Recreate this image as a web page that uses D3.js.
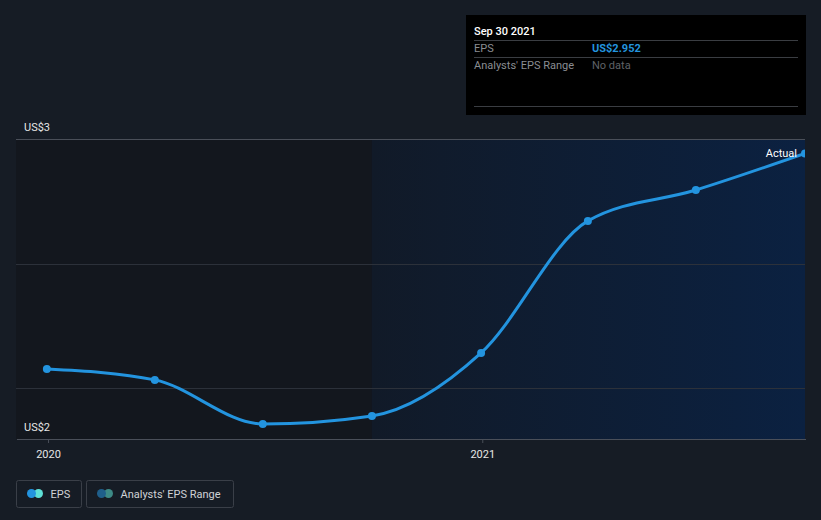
<!DOCTYPE html>
<html>
<head>
<meta charset="utf-8">
<script src="https://cdn.jsdelivr.net/npm/d3@7"></script>
<style>
  html, body { margin: 0; padding: 0; background: #161c25; }
  svg { display: block; font-family: Roboto, "Noto Sans", sans-serif; }
</style>
</head>
<body>
<svg id="chart" width="821" height="520"></svg>
<script>
// ---- data ----
const dates = ["2019-12-31", "2020-03-31", "2020-06-30", "2020-09-30", "2020-12-31", "2021-03-31", "2021-06-30", "2021-09-30"];
const eps = [2.233, 2.197, 2.05, 2.077, 2.287, 2.727, 2.83, 2.952];
const yLabelValues = [2, 3];
const yLabelTexts = ["US$2", "US$3"];
const gridValues = [2.1667, 2.5833, 3];
const xTickDates = ["2020-01-01", "2021-01-01"];
const xTickLabels = ["2020", "2021"];
const domainDates = ["2019-12-05", "2021-09-30"];
const forecastStart = "2020-09-30";
const tooltipTitle = "Sep 30 2021";
const tooltipRows = [["EPS", "US$2.952"], ["Analysts' EPS Range", "No data"]];
const legendItems = ["EPS", "Analysts' EPS Range"];

// ---- setup ----
const parse = d3.timeParse("%Y-%m-%d");
const svg = d3.select("#chart");
const L = 16, R = 805, T = 139, B = 439;

const x = d3.scaleTime().domain(domainDates.map(parse)).range([L, R]);
const y = d3.scaleLinear().domain([2, 3]).range([B, T]);

const defs = svg.append("defs");
const grad = defs.append("linearGradient").attr("id", "fgrad").attr("x1", "0").attr("x2", "1").attr("y1", "0").attr("y2", "0");
grad.append("stop").attr("offset", "0%").attr("stop-color", "#111a28");
grad.append("stop").attr("offset", "100%").attr("stop-color", "#0b2141");
defs.append("clipPath").attr("id", "clip").append("rect")
  .attr("x", L - 10).attr("y", 0).attr("width", R - L + 10).attr("height", 520);

// shaded regions
const xs = x(parse(forecastStart));
svg.append("rect").attr("x", L).attr("y", T).attr("width", xs - L).attr("height", B - T).attr("fill", "#13171e");
svg.append("rect").attr("x", xs).attr("y", T).attr("width", R - xs).attr("height", B - T).attr("fill", "url(#fgrad)");

// gridlines
svg.append("g").selectAll("line").data(gridValues).join("line")
  .attr("x1", L).attr("x2", R)
  .attr("y1", d => y(d)).attr("y2", d => y(d))
  .attr("stroke", d => d === 3 ? "#4a4f59" : "#2c313a")
  .attr("stroke-width", 1).attr("shape-rendering", "crispEdges");

// x axis
const xAxis = d3.axisBottom(x)
  .tickValues(xTickDates.map(parse))
  .tickFormat((d, i) => xTickLabels[i])
  .tickSize(4).tickSizeOuter(0);
const gx = svg.append("g").attr("transform", `translate(0,${B})`).call(xAxis);
gx.select(".domain").attr("stroke", "#4a4f59").attr("shape-rendering", "crispEdges");
gx.selectAll(".tick line").attr("stroke", "#4a4f59");
gx.selectAll(".tick text").attr("fill", "#e6e6e6").attr("font-size", "11px").attr("dy", "1.05em")
  .attr("font-family", "Roboto, sans-serif");

// y labels
svg.append("g").selectAll("text").data(yLabelValues).join("text")
  .attr("x", 24).attr("y", d => y(d) - 8)
  .attr("fill", "#e6e6e6").attr("font-size", "11px")
  .text((d, i) => yLabelTexts[i]);

// line
const pts = dates.map((d, i) => ({ date: parse(d), v: eps[i] }));
const line = d3.line().x(d => x(d.date)).y(d => y(d.v)).curve(d3.curveMonotoneX);
const plot = svg.append("g").attr("clip-path", "url(#clip)");
plot.append("path").datum(pts).attr("d", line)
  .attr("fill", "none").attr("stroke", "#2394df").attr("stroke-width", 3);
plot.selectAll("circle").data(pts).join("circle")
  .attr("cx", d => x(d.date)).attr("cy", d => y(d.v)).attr("r", 4)
  .attr("fill", "#2394df");

// Actual label
const last = pts[pts.length - 1];
svg.append("text").attr("x", x(last.date) - 8).attr("y", y(last.v) + 4)
  .attr("text-anchor", "end").attr("fill", "#ffffff").attr("font-size", "11px").text("Actual");

// tooltip
const tt = svg.append("g").attr("transform", "translate(466,15)");
tt.append("rect").attr("width", 340).attr("height", 100).attr("fill", "#000000");
tt.append("text").attr("x", 8).attr("y", 20).attr("fill", "#ffffff").attr("font-size", "11px").attr("font-weight", 500).text(tooltipTitle);
[25, 42, 91].forEach(yy => tt.append("line").attr("x1", 8).attr("x2", 332).attr("y1", yy).attr("y2", yy)
  .attr("stroke", "#3a3d42").attr("shape-rendering", "crispEdges"));
tooltipRows.forEach((r, i) => {
  const yy = 37 + i * 17;
  tt.append("text").attr("x", 8).attr("y", yy).attr("fill", "#8a8d92").attr("font-size", "11px").text(r[0]);
  tt.append("text").attr("x", 126).attr("y", yy)
    .attr("fill", i === 0 ? "#2394df" : "#5f6267")
    .attr("font-weight", i === 0 ? 700 : 400)
    .attr("font-size", "11px").text(r[1]);
});

// legend
const lg = svg.append("g");
const legendX = [16, 86], legendW = [65, 147];
const legendColors = [["#2394df", "#5ee0d6"], ["#1f5f8b", "#3d8a86"]];
legendItems.forEach((name, i) => {
  const g = lg.append("g").attr("transform", `translate(${legendX[i] + 0.5},480.5)`);
  g.append("rect").attr("width", legendW[i]).attr("height", 27).attr("rx", 2)
    .attr("fill", "none").attr("stroke", "#3a3f48");
  g.append("circle").attr("cx", 22).attr("cy", 13).attr("r", 4.5).attr("fill", legendColors[i][1]);
  g.append("circle").attr("cx", 15).attr("cy", 13).attr("r", 4.5).attr("fill", legendColors[i][0]);
  g.append("text").attr("x", 34).attr("y", 17).attr("fill", "#d0d2d6").attr("font-size", "11px").text(name);
});
</script>
</body>
</html>
